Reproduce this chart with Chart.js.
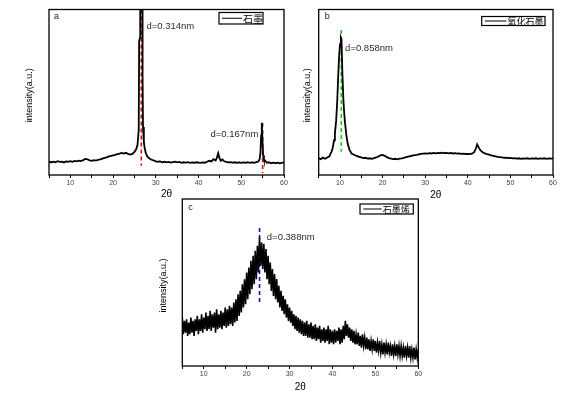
<!DOCTYPE html>
<html><head><meta charset="utf-8">
<script src="https://cdn.jsdelivr.net/npm/chart.js@4.4.1/dist/chart.umd.min.js"></script>
<style>
html,body{margin:0;padding:0;background:#fff;width:570px;height:394px;overflow:hidden;position:relative}
canvas{position:absolute}
</style></head><body>
<canvas id="ca" width="290" height="200" style="left:0px;top:0px;width:290px;height:200px"></canvas>
<canvas id="cb" width="280" height="200" style="left:290px;top:0px;width:280px;height:200px"></canvas>
<canvas id="cc" width="290" height="204" style="left:140px;top:190px;width:290px;height:204px"></canvas>
<script>
// ---------------- DATA ----------------
const xTickLabels = [10, 20, 30, 40, 50, 60];

// panel a: 石墨
const aX = [5,5.5,6,6.5,7,7.5,8,8.5,9,9.5,10,10.5,11,11.5,12,12.5,13,13.5,14,14.5,15,15.5,16,16.5,17,17.5,18,18.5,19,19.5,20,20.5,21,21.5,22,22.5,23,23.5,24,24.5,25,25.4,25.7,26.0,26.1,26.3,26.35,26.6,26.85,26.9,27.0,27.2,27.4,27.7,28,28.5,29,29.5,30,30.5,31,31.5,32,32.5,33,33.5,34,34.5,35,35.5,36,36.5,37,37.5,38,38.5,39,39.5,40,40.5,41,41.5,42,42.5,43,43.5,44,44.3,44.6,44.9,45.2,45.6,46,46.5,47,47.5,48,48.5,49,49.5,50,50.5,51,51.5,52,52.5,53,53.5,54,54.3,54.5,54.65,54.8,54.95,55.1,55.3,55.6,56,56.5,57,57.5,58,58.5,59,59.5,60];
const aY = [8.2,7.6,8.0,7.7,8.3,7.9,8.1,7.6,8.2,8.0,8.4,8.0,8.5,8.2,8.7,8.4,9.0,9.7,9.5,8.8,8.6,9.0,8.7,9.2,9.4,9.9,10.3,10.7,11.2,11.5,11.9,12.2,12.6,12.9,13.3,12.9,13.4,12.8,12.3,12.7,14.0,15.5,18,27,81,83,125,130,125,60,29,20,16,13,11.2,10,9.2,8.8,8.3,8.0,8.2,7.7,8.0,7.6,7.9,7.5,7.8,8.1,7.6,7.9,7.4,7.7,7.5,7.8,7.3,7.6,7.4,7.7,7.5,7.3,7.6,7.4,8.0,8.6,8.2,9.6,8.8,10.5,13.2,10.2,8.6,9.4,8.3,7.9,7.6,7.8,7.5,7.7,7.4,7.6,7.3,7.6,7.4,7.7,7.3,7.6,7.4,7.8,8.2,9.5,14,24,31.5,22,12,9.5,8.6,7.4,7.7,7.1,7.5,7.2,7.4,7.0,7.3,7.6];
const aMarkX = [26.6, 55.0];
const aMarkTop = [100, 31.4];
const aMarkBottom = [5.6, 1.2];
const aNoteX = [27.8, 42.8];
const aNoteY = [90, 24.8];
const aNotes = ["d=0.314nm", "d=0.167nm"];

// panel b: 氧化石墨
const bX = [5,5.5,6,6.5,7,7.5,7.7,8,8.3,8.6,8.8,9.1,9.36,9.6,9.8,10.0,10.2,10.35,10.55,10.8,11.0,11.2,11.5,11.8,12.2,12.7,13.3,13.9,14.5,15,15.5,16,16.5,17,17.5,18,18.5,19,19.5,20,20.5,21,21.5,22,22.5,23,23.5,24,24.5,25,25.5,26,26.5,27,27.5,28,28.5,29,29.5,30,30.5,31,31.5,32,32.5,33,33.5,34,34.5,35,35.5,36,36.5,37,37.5,38,38.5,39,39.5,40,40.5,41,41.5,41.9,42.2,42.5,42.8,43.2,43.6,44,44.5,45,45.5,46,46.5,47,47.5,48,48.5,49,49.5,50,50.5,51,51.5,52,52.5,53,53.5,54,54.5,55,55.5,56,56.5,57,57.5,58,58.5,59,59.5,60];
const bY = [10.2,9.6,10.5,9.8,10.6,11.3,12.5,14,16.5,21,25,33,45,61,72,79,83,82,62,45,37,31,24,19,15.5,13,12.2,11.5,11,10.6,10.2,10.4,9.9,10.1,9.8,10.2,10.6,11.2,11.8,12.1,11.6,10.8,10.2,9.9,9.6,9.8,9.5,9.9,10.1,10.4,10.8,11.1,11.4,11.7,12.0,12.2,12.5,12.7,12.9,13.1,12.9,13.2,13.0,13.3,13.1,13.4,13.2,13.5,13.2,13.4,13.1,13.3,13.0,13.2,12.9,13.1,12.8,12.9,12.7,12.8,12.6,12.9,13.8,16,18.5,17,15.5,14.3,13.6,13.1,12.6,12.3,11.9,11.6,11.3,11.0,10.8,10.6,10.4,10.5,10.2,10.3,10.0,10.2,9.9,10.1,9.8,10.0,9.9,10.1,9.8,10.0,9.9,10.1,9.8,10.0,9.9,10.1,9.8,10.0,9.9,10.0];
const bMarkX = [10.3];
const bMarkTop = [87.6];
const bMarkBottom = [14];
const bNoteX = [11.2];
const bNoteY = [76.7];
const bNotes = ["d=0.858nm"];

// panel c: 石墨烯 — upper and lower edge of the noisy band, every 0.5° from 5 to 60
const cStart = 5, cStep = 0.5;
const cHi = [29,27,28,26,29,27,28,30,28,31,29,32,30,33,31,32,34,31,33,32,35,34,36,35,38,40,43,45,49,52,56,59,63,66,69,72,77,74,73,70,66,62,58,55,52,48,45,42,40,37,35,33,31,30,29,28,27,26,27,25,26,24,25,23,24,22,23,22,24,22,21,22,21,23,22,24,27,25,23,22,21,19,20,18,19,17,17,16,15,16,15,14,15,13,14,13,14,12,13,12,13,12,12,11,12,11,12,10,11,10,10];
const cLo = [19,20,18,19,20,18,21,19,21,20,22,21,22,21,23,20,22,23,22,24,23,24,25,24,26,27,30,32,35,37,40,43,46,49,52,56,60,58,56,52,49,45,42,40,38,35,33,31,29,27,26,24,22,21,20,19,18,18,17,17,16,16,15,16,14,15,14,15,13,14,13,14,15,13,14,16,18,17,15,14,13,13,12,11,12,10,10,9,10,9,8,9,8,7,8,7,8,6,7,6,7,6,6,5,6,5,5,5,4,5,4];
const cMarkX = [23];
const cMarkTop = [82.6];
const cMarkBottom = [36.5];
const cNoteX = [24.7];
const cNoteY = [77];
const cNotes = ["d=0.388nm"];

// ---------------- CHARTS ----------------
const LATIN = "'Liberation Sans', Arial, sans-serif";
const CJK = "'Noto Sans CJK SC', sans-serif";

function pts(xs, ys) { return xs.map((x, i) => ({x: x, y: ys[i]})); }
function bandPts(start, step, hi, lo) {
  const out = [];
  for (let i = 0; i < hi.length; i++) {
    const x = start + i * step;
    out.push({x: x, y: hi[i]});
    out.push({x: x + step / 2, y: lo[i]});
  }
  return out;
}
function markSets(mx, top, bot, color) {
  return mx.map((x, i) => ({
    data: [{x: x, y: top[i]}, {x: x, y: bot[i]}],
    borderColor: color, borderWidth: 1.6, borderDash: [4, 3],
    pointRadius: 0, fill: false, tension: 0
  }));
}

const decor = {
  id: 'decor',
  afterDraw(chart, args, o) {
    const ctx = chart.ctx, ca = chart.chartArea, xs = chart.scales.x, ys = chart.scales.y;
    ctx.save();
    ctx.strokeStyle = '#000'; ctx.lineWidth = 1.3;
    ctx.strokeRect(ca.left, ca.top, ca.right - ca.left, ca.bottom - ca.top);
    ctx.fillStyle = '#222'; ctx.font = '9px ' + LATIN;
    ctx.textAlign = 'left'; ctx.textBaseline = 'middle';
    ctx.fillText(o.letter, ca.left + o.letterDx, ca.top + o.letterDy);
    ctx.font = '9.5px ' + LATIN; ctx.fillStyle = '#2a2a2a';
    o.noteX.forEach((nx, i) => {
      ctx.fillText(o.notes[i], xs.getPixelForValue(nx), ys.getPixelForValue(o.noteY[i]));
    });
    const L = o.legend;
    ctx.fillStyle = '#fff'; ctx.fillRect(L.x, L.y, L.w, L.h);
    ctx.lineWidth = 1.2; ctx.strokeStyle = '#000';
    ctx.strokeRect(L.x, L.y, L.w, L.h);
    ctx.beginPath(); ctx.lineWidth = 1;
    ctx.moveTo(L.l1, L.y + L.h / 2); ctx.lineTo(L.l2, L.y + L.h / 2); ctx.stroke();
    ctx.fillStyle = '#000'; ctx.font = L.fs + 'px ' + CJK;
    ctx.textAlign = 'left'; ctx.textBaseline = 'middle';
    ctx.fillText(o.legendText, L.l2 + 1, L.y + L.h / 2 + 0.5);
    ctx.font = '10px ' + LATIN; ctx.textAlign = 'center';
    ctx.fillText('2θ', (ca.left + ca.right) / 2, ca.bottom + o.xTitleDy);
    ctx.save();
    ctx.translate(ca.left - o.yTitleDx, (ca.top + ca.bottom) / 2 + o.yTitleDyc);
    ctx.rotate(-Math.PI / 2);
    ctx.font = '9px ' + LATIN;
    ctx.fillText('intensity(a.u.)', 0, 0);
    ctx.restore();
    ctx.restore();
  }
};

function makeChart(id, datasets, lay, dec) {
  new Chart(document.getElementById(id), {
    type: 'line',
    data: {datasets: datasets},
    options: {
      responsive: false, animation: false, devicePixelRatio: 1,
      layout: {padding: lay.padding},
      plugins: {legend: {display: false}, tooltip: {enabled: false}, decor: dec},
      elements: {point: {radius: 0}, line: {tension: 0}},
      scales: {
        x: {
          type: 'linear', min: 5, max: 60,
          afterFit(s) { s.height = lay.xH; },
          border: {display: false},
          grid: {drawOnChartArea: false, drawTicks: true, tickLength: 3, color: '#000', lineWidth: 1},
          ticks: {
            stepSize: 5, autoSkip: false, maxRotation: 0, padding: 1,
            color: '#3c4150', font: {size: 7, family: LATIN},
            callback: v => xTickLabels.includes(v) ? String(v) : ''
          }
        },
        y: {
          type: 'linear', min: 0, max: 100,
          afterFit(s) { s.width = lay.yW; },
          border: {display: false}, grid: {display: false},
          ticks: {display: false}
        }
      }
    },
    plugins: [decor]
  });
}

makeChart('ca', [
  {data: pts(aX, aY), borderColor: '#000', borderWidth: 1.8, pointRadius: 0},
  ...markSets(aMarkX, aMarkTop, aMarkBottom, '#d01010')
], {padding: {left: 0, top: 9.5, right: 6, bottom: 0}, yW: 49, xH: 25},
{letter: 'a', letterDx: 5, letterDy: 7, noteX: aNoteX, noteY: aNoteY, notes: aNotes,
 legendText: '石墨', legend: {x: 219, y: 12.5, w: 44, h: 11.5, l1: 222, l2: 242, fs: 10},
 xTitleDy: 19, yTitleDx: 19, yTitleDyc: 3});

makeChart('cb', [
  {data: pts(bX, bY), borderColor: '#000', borderWidth: 1.8, pointRadius: 0},
  ...markSets(bMarkX, bMarkTop, bMarkBottom, '#10d010')
], {padding: {left: 0, top: 9.5, right: 17, bottom: 0}, yW: 28.7, xH: 25},
{letter: 'b', letterDx: 6, letterDy: 7, noteX: bNoteX, noteY: bNoteY, notes: bNotes,
 legendText: '氧化石墨', legend: {x: 191.7, y: 16.5, w: 63.3, h: 9, l1: 195, l2: 216.5, fs: 9},
 xTitleDy: 20, yTitleDx: 11, yTitleDyc: 3});

makeChart('cc', [
  {data: bandPts(cStart, cStep, cHi, cLo), borderColor: '#000', borderWidth: 1.6, pointRadius: 0},
  ...markSets(cMarkX, cMarkTop, cMarkBottom, '#1010c8')
], {padding: {left: 0, top: 9, right: 11.7, bottom: 0}, yW: 42.3, xH: 28},
{letter: 'c', letterDx: 6, letterDy: 8.5, noteX: cNoteX, noteY: cNoteY, notes: cNotes,
 legendText: '石墨烯', legend: {x: 220, y: 14, w: 53.3, h: 10, l1: 223.3, l2: 241.7, fs: 9},
 xTitleDy: 21, yTitleDx: 19, yTitleDyc: 3});
</script>
</body></html>
